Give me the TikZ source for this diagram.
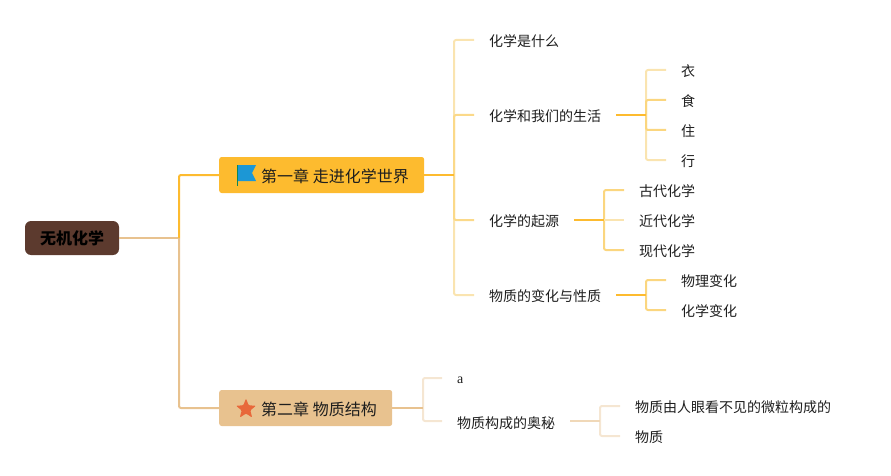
\documentclass[tikz,border=0pt]{standalone}
\usepackage{fontspec}
\setmainfont{Noto Sans CJK SC}
\newfontfamily\latinfont{Liberation Serif}
\usetikzlibrary{positioning,shapes.geometric,calc}
\definecolor{yellowdeep}{HTML}{FDBB2F}
\definecolor{yellowmid}{HTML}{FBD67F}
\definecolor{yellowpale}{HTML}{FAE4B0}
\definecolor{tandeep}{HTML}{E8C28F}
\definecolor{tanmid}{HTML}{F0D8B8}
\definecolor{tanpale}{HTML}{F5E6D2}
\definecolor{rootbrown}{HTML}{5C3A2E}
\definecolor{flagblue}{HTML}{1C97D5}
\definecolor{starorange}{HTML}{E8683A}
\definecolor{inkgrey}{HTML}{1E1E1E}
\begin{document}
\begin{tikzpicture}[x=1pt, y=-1pt,
    rootbox/.style={fill=rootbrown, rounded corners=6pt, minimum width=94pt, minimum height=34pt, inner sep=0pt, font=\fontsize{16}{16}\selectfont\bfseries, text=black},
    chapbox/.style={rounded corners=2.5pt, minimum height=36pt, inner sep=0pt, anchor=west},
    chaptext/.style={inner sep=0pt, anchor=west, font=\fontsize{16}{16}\selectfont, text=inkgrey},
    leaf/.style={inner sep=0pt, anchor=west, font=\fontsize{14}{14}\selectfont, text=inkgrey},
    lk/.style={line width=2pt, rounded corners=2pt}]
    \useasboundingbox (0,0) rectangle (891,476);
    % boxes
    \node[rootbox] (root) at (72,238) {无机化学};
    \node[chapbox, fill=yellowdeep, minimum width=205pt] (ch1) at (219,175) {};
    \node[chapbox, fill=tandeep, minimum width=173pt] (ch2) at (219,408) {};
    \node[chaptext] (ch1t) at (261,176) {第一章 走进化学世界};
    \node[chaptext] (ch2t) at (261,409) {第二章 物质结构};
    % icons
    \fill[flagblue!60!green!70!black] (237,165) rectangle (238.2,185.5);
    \fill[flagblue] (238,165) -- (256,165) -- (252,173) -- (256,181) -- (238,181) -- cycle;
    \node[star, star points=5, star point ratio=2.3, fill=starorange, minimum size=21pt, inner sep=0pt, rounded corners=1pt] (staricon) at (246,409) {};
    % first level
    \node[leaf] (a1) at (489,41) {化学是什么};
    \node[leaf] (a2) at (489,116) {化学和我们的生活};
    \node[leaf] (a3) at (489,221) {化学的起源};
    \node[leaf] (a4) at (489,296) {物质的变化与性质};
    \node[leaf] (b1) at (457,380) {\latinfont a};
    \node[leaf] (b2) at (457,423) {物质构成的奥秘};
    % second level
    \node[leaf] (a21) at (681,71) {衣};
    \node[leaf] (a22) at (681,101) {食};
    \node[leaf] (a23) at (681,131) {住};
    \node[leaf] (a24) at (681,161) {行};
    \node[leaf] (a31) at (639,191) {古代化学};
    \node[leaf] (a32) at (639,221) {近代化学};
    \node[leaf] (a33) at (639,251) {现代化学};
    \node[leaf] (a41) at (681,281) {物理变化};
    \node[leaf] (a42) at (681,311) {化学变化};
    \node[leaf] (b21) at (635,407) {物质由人眼看不见的微粒构成的};
    \node[leaf] (b22) at (635,437) {物质};
    % junctions
    \coordinate (j0) at (179,238);
    \coordinate (j1) at (454,175);
    \coordinate (j2) at (423,408);
    \coordinate (j12) at (646,115);
    \coordinate (j13) at (604,220);
    \coordinate (j14) at (646,295);
    \coordinate (j22) at (600,421);
    % links
    \draw[lk, tandeep] (root.east) -- (j0);
    \draw[lk, tandeep] (j0) |- (ch2.west);
    \draw[lk, yellowdeep] (j0) |- (ch1.west);
    \draw[lk, yellowpale] (j1) |- ($(a1.west)+(-15,-1)$);
    \draw[lk, yellowmid!80!yellowpale] (j1) |- ($(a2.west)+(-15,-1)$);
    \draw[lk, yellowpale] (j1) |- ($(a4.west)+(-15,-1)$);
    \draw[lk, yellowmid!80!yellowpale] (j1) |- ($(a3.west)+(-15,-1)$);
    \draw[lk, yellowdeep] (ch1.east) -- (j1);
    \draw[lk, yellowpale] (j12) |- ($(a21.west)+(-15,-1)$);
    \draw[lk, yellowpale] (j12) |- ($(a24.west)+(-15,-1)$);
    \draw[lk, yellowmid] (j12) |- ($(a22.west)+(-15,-1)$);
    \draw[lk, yellowmid] (j12) |- ($(a23.west)+(-15,-1)$);
    \draw[lk, yellowdeep] ($(a2.east)+(15,-1)$) -- (j12);
    \draw[lk, yellowmid] (j13) |- ($(a31.west)+(-15,-1)$);
    \draw[lk, yellowmid] (j13) |- ($(a33.west)+(-15,-1)$);
    \draw[lk, yellowpale] (j13) -- ($(a32.west)+(-15,-1)$);
    \draw[lk, yellowdeep] ($(a3.east)+(15,-1)$) -- (j13);
    \draw[lk, yellowmid] (j14) |- ($(a41.west)+(-15,-1)$);
    \draw[lk, yellowmid] (j14) |- ($(a42.west)+(-15,-1)$);
    \draw[lk, yellowdeep] ($(a4.east)+(15,-1)$) -- (j14);
    \draw[lk, tanpale] (j2) |- ($(b1.west)+(-15,-2)$);
    \draw[lk, tanpale] (j2) |- ($(b2.west)+(-15,-2)$);
    \draw[lk, tandeep] (ch2.east) -- (j2);
    \draw[lk, tanpale] (j22) |- ($(b21.west)+(-15,-1)$);
    \draw[lk, tanpale] (j22) |- ($(b22.west)+(-15,-1)$);
    \draw[lk, tanmid] ($(b2.east)+(15,-2)$) -- (j22);
  \end{tikzpicture}
\end{document}
